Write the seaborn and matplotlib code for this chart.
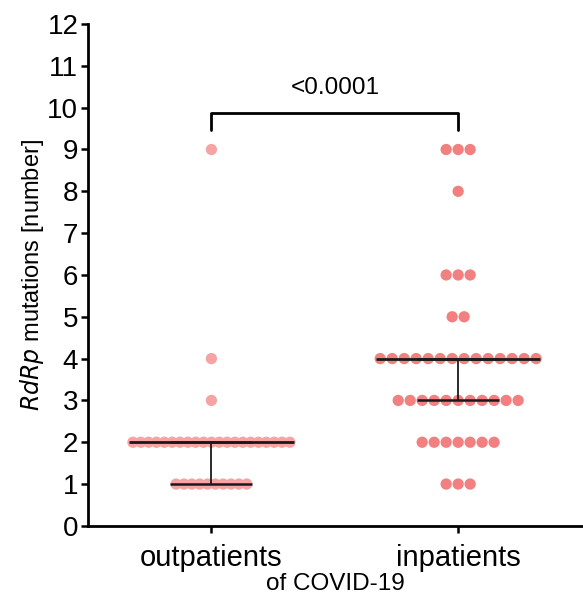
import numpy as np
import pandas as pd
import matplotlib
matplotlib.use("Agg")
import matplotlib.pyplot as plt
import seaborn as sns

sns.set_style("ticks")
plt.rcParams['font.family'] = ['Liberation Sans', 'DejaVu Sans']
plt.rcParams.update({"text.color": "black", "axes.labelcolor": "black",
                     "xtick.color": "black", "ytick.color": "black",
                     "axes.edgecolor": "black"})

# ---- data ----
groups = ["outpatients", "inpatients"]
values_levels = [1, 2, 3, 4, 5, 6, 8, 9]
out_counts = [10, 21, 1, 1, 0, 0, 0, 1]
in_counts = [3, 7, 11, 14, 2, 3, 1, 3]
colors = ["#F5A3A3", "#F28080"]
pvalue_text = "<0.0001"
ylabel_plain = " mutations [number]"
xlabel = "of COVID-19"

rows = []
for g, counts in zip(groups, [out_counts, in_counts]):
    for v, c in zip(values_levels, counts):
        rows += [(g, v)] * c
df = pd.DataFrame(rows, columns=["group", "mutations"])

# horizontal spacing of dots (layout only) per group, in category units
spacing = {"outpatients": 0.0318, "inpatients": 0.0486}
xs = []
for g, sub in df.groupby("group", sort=False):
    gi = groups.index(g)
    for v, ss in sub.groupby("mutations"):
        n = len(ss)
        offs = (np.arange(n) - (n - 1) / 2) * spacing[g]
        xs.append(pd.Series(gi + offs, index=ss.index))
df["xpos"] = pd.concat(xs)

fig = plt.figure(figsize=(5.83, 6.01), dpi=100)
ax = fig.add_axes([0.151, 0.125, 0.849, 0.835])

sns.scatterplot(data=df, x="xpos", y="mutations", hue="group", palette=colors,
                s=66, linewidth=0, legend=False, ax=ax, zorder=2, alpha=1)

# median & interquartile range
for gi, g in enumerate(groups):
    vals = df.loc[df.group == g, "mutations"].values
    q1, med, q3 = np.percentile(vals, [25, 50, 75])
    ax.plot([gi - 0.333, gi + 0.333], [med, med], color="#1a1a1a", lw=2.0, zorder=3, solid_capstyle="butt")
    ax.plot([gi - 0.166, gi + 0.166], [q1, q1], color="#1a1a1a", lw=1.8, zorder=3, solid_capstyle="butt")
    ax.plot([gi - 0.166, gi + 0.166], [q3, q3], color="#1a1a1a", lw=1.8, zorder=3, solid_capstyle="butt")
    ax.plot([gi, gi], [q1, q3], color="#1a1a1a", lw=1.3, zorder=3)

# significance bracket
ax.plot([0, 0, 1, 1], [9.47, 9.88, 9.88, 9.47], color="black", lw=2.0, clip_on=False)
ax.text(0.5, 10.2, pvalue_text, ha="center", va="bottom", fontsize=17.5)

ax.set_xlim(-0.5, 1.506)
ax.set_ylim(0, 12)
ax.set_yticks(range(0, 13))
ax.set_xticks([0, 1])
ax.set_xticklabels(groups, fontsize=21)
ax.tick_params(axis="y", labelsize=20, width=1.8, length=5, pad=2)
ax.tick_params(axis="x", width=1.8, length=5, pad=8)
for s in ["left", "bottom"]:
    ax.spines[s].set_linewidth(2.0)
sns.despine(ax=ax)
ax.set_xlabel(xlabel, fontsize=17.5, labelpad=1)
ax.set_ylabel(r"$\it{RdRp}$" + ylabel_plain, fontsize=17, labelpad=1)

fig.savefig("out.png", dpi=100)
